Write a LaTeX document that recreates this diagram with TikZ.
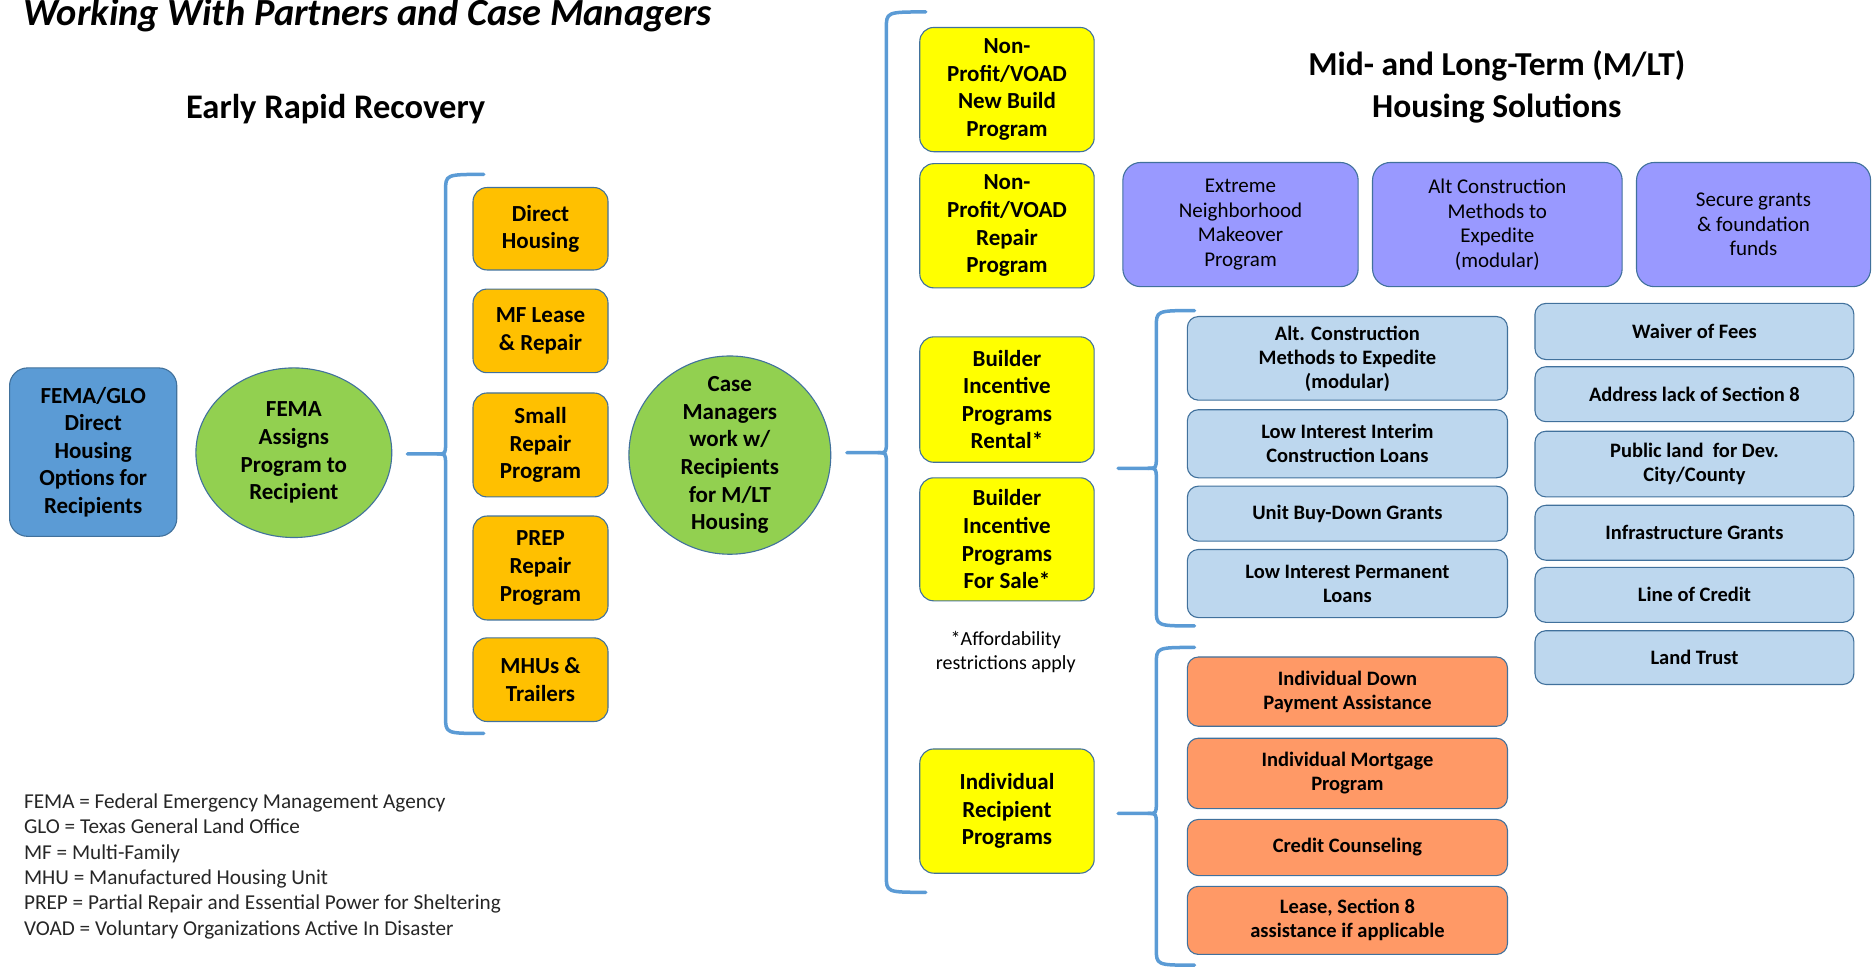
\documentclass[tikz,border=0pt]{standalone}
\usepackage{fontspec}
\setmainfont{Carlito}
\usetikzlibrary{shapes.geometric}
\def\U{1.1945pt}
\definecolor{edge}{HTML}{41719C}
\definecolor{fglo}{HTML}{5B9BD5}
\definecolor{grn}{HTML}{92D050}
\definecolor{org}{HTML}{FFC000}
\definecolor{yel}{HTML}{FFFF00}
\definecolor{pur}{HTML}{9999FF}
\definecolor{lblue}{HTML}{BDD7EE}
\definecolor{salmon}{HTML}{FF9966}
\definecolor{bracec}{HTML}{5B9BD5}
\definecolor{legendc}{HTML}{262626}
\tikzset{
  base/.style={inner sep=0pt, align=center, text=black},
  boxbase/.style={base, draw=edge, line width=1.1pt},
  lbold/.style={font=\fontsize{23}{27.6}\selectfont\bfseries},
  rreg/.style={font=\fontsize{21}{24.4}\selectfont},
  rbold/.style={font=\fontsize{20.5}{24}\selectfont\bfseries},
  globox/.style={boxbase, fill=fglo, rounded corners=18pt, lbold},
  obox/.style={boxbase, fill=org, rounded corners=14pt, lbold},
  ybox/.style={boxbase, fill=yel, rounded corners=14pt, lbold},
  pbox/.style={boxbase, fill=pur, rounded corners=18pt, rreg},
  bbox/.style={boxbase, fill=lblue, rounded corners=11pt, rbold},
  sbox/.style={boxbase, fill=salmon, rounded corners=11pt, rbold},
  circ/.style={ellipse, draw=edge, line width=1.1pt, fill=grn, inner sep=0pt},
  bracestyle/.style={draw=bracec, line width=3.5pt, line cap=round, line join=round},
}
% style, name, x1, y1, x2, y2, text
\newcommand\bx[7]{\node[#1, minimum width={(#5-#3)*\U}, minimum height={(#6-#4)*\U}] (#2) at ({(#3+#5)/2},{(#4+#6)/2}) {#7};}
% name, xtip, xv, xend, ytop, ymid, ybot
\newcommand\bracedraw[7]{%
  \coordinate (#1tip) at (#2,#6);
  \coordinate (#1top) at (#4,#5);
  \coordinate (#1bot) at (#4,#7);
  \draw[bracestyle] (#1top) .. controls (#3,#5) .. (#3,#5+14) -- (#3,#6-9) .. controls (#3,#6) .. (#3-7,#6) -- (#1tip);
  \draw[bracestyle] (#3-7,#6) .. controls (#3,#6) .. (#3,#6+9) -- (#3,#7-14) .. controls (#3,#7) .. (#1bot);
}
\begin{document}
\begin{tikzpicture}[x=\U, y=-\U]
\useasboundingbox (0,0) rectangle (1568,810);

% titles
\node[anchor=base west, inner sep=0pt, font=\fontsize{38.4}{40}\selectfont\bfseries\itshape] (title) at (19.5,21) {Working With Partners and Case Managers};
\node[anchor=base, inner sep=0pt, font=\fontsize{34.5}{40}\selectfont\bfseries] (early) at (281,99.5) {Early Rapid Recovery};
\node[anchor=north, base, font=\fontsize{33.5}{41.8}\selectfont\bfseries] (mlt) at (1253,42) {Mid- and Long-Term (M/LT)\\Housing Solutions};

% left part
\bx{globox}{glo}{8}{308}{148}{449}{FEMA/GLO\\Direct\\Housing\\Options for\\Recipients}
\node[circ, minimum width=164*\U, minimum height=142*\U] (fema) at (246,379) {};
\node[base, lbold] (fematext) at (fema.center) {FEMA\\Assigns\\Program to\\Recipient};

\bracedraw{b1}{341}{373}{405}{146}{380}{614}

\bx{obox}{dh}{396}{157}{509}{226}{Direct\\Housing}
\bx{obox}{mf}{396}{242}{509}{312}{MF Lease\\\& Repair}
\bx{obox}{sr}{396}{329}{509}{416}{Small\\Repair\\Program}
\bx{obox}{prep}{396}{432}{509}{519}{PREP\\Repair\\Program}
\bx{obox}{mhu}{396}{534}{509}{604}{MHUs \&\\Trailers}

\node[circ, minimum width=169*\U, minimum height=166*\U] (cm) at (611,381) {};
\node[base, lbold] (cmtext) at (cm.center) {Case\\Managers\\work w/\\Recipients\\for M/LT\\Housing};

\bracedraw{b2}{709}{742}{775}{10}{379}{747}

% yellow column
\bx{ybox}{np1}{770}{23}{916}{127}{Non-\\Profit/VOAD\\New Build\\Program}
\bx{ybox}{np2}{770}{137}{916}{241}{Non-\\Profit/VOAD\\Repair\\Program}
\bx{ybox}{bir}{770}{282}{916}{387}{Builder\\Incentive\\Programs\\Rental*}
\bx{ybox}{bis}{770}{400}{916}{503}{Builder\\Incentive\\Programs\\For Sale*}
\bx{ybox}{irp}{770}{627}{916}{731}{Individual\\Recipient\\Programs}
\node[base, font=\fontsize{20}{23.9}\selectfont] (afford) at (842,546) {*Affordability\\restrictions apply};

% purple row
\bx{pbox}{pu1}{940}{136}{1137}{240}{Extreme\\Neighborhood\\Makeover\\Program}
\bx{pbox}{pu2}{1149}{136}{1358}{240}{Alt Construction\\Methods to\\Expedite\\(modular)}
\bx{pbox}{pu3}{1370}{136}{1566}{240}{Secure grants\\\& foundation\\funds}

% builder incentives
\bracedraw{b3}{936}{968}{1000}{260}{392}{524}
\bx{bbox}{lb1}{994}{265}{1262}{335}{Alt. Construction\\Methods to Expedite\\(modular)}
\bx{bbox}{lb2}{994}{343}{1262}{400}{Low Interest Interim\\Construction Loans}
\bx{bbox}{lb3}{994}{407}{1262}{453}{Unit Buy-Down Grants}
\bx{bbox}{lb4}{994}{460}{1262}{517}{Low Interest Permanent\\Loans}

\bx{bbox}{rb1}{1285}{254}{1552}{301}{Waiver of Fees}
\bx{bbox}{rb2}{1285}{307}{1552}{353}{Address lack of Section 8}
\bx{bbox}{rb3}{1285}{361}{1552}{416}{Public land \ for Dev.\\City/County}
\bx{bbox}{rb4}{1285}{423}{1552}{469}{Infrastructure Grants}
\bx{bbox}{rb5}{1285}{475}{1552}{521}{Line of Credit}
\bx{bbox}{rb6}{1285}{528}{1552}{573}{Land Trust}

% individual programs
\bracedraw{b4}{936}{968}{1000}{542}{681}{808}
\bx{sbox}{sa1}{994}{550}{1262}{608}{Individual Down\\Payment Assistance}
\bx{sbox}{sa2}{994}{618}{1262}{677}{Individual Mortgage\\Program}
\bx{sbox}{sa3}{994}{686}{1262}{733}{Credit Counseling}
\bx{sbox}{sa4}{994}{742}{1262}{799}{Lease, Section 8\\assistance if applicable}

% legend
\node[anchor=north west, inner sep=0pt, align=left, text=legendc, font=\fontsize{21.2}{25.3}\selectfont] (legend) at (20,664.5) {FEMA = Federal Emergency Management Agency\\GLO = Texas General Land Office\\MF = Multi-Family\\MHU = Manufactured Housing Unit\\PREP = Partial Repair and Essential Power for Sheltering\\VOAD = Voluntary Organizations Active In Disaster};
\end{tikzpicture}
\end{document}
